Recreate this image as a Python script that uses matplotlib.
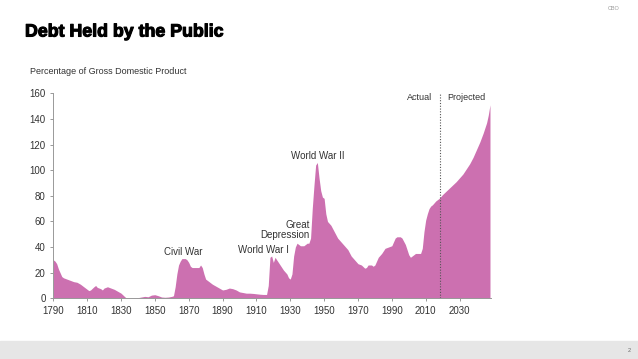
import matplotlib.pyplot as plt
import matplotlib.patheffects as pe

# Debt held by the public, percent of GDP
years = [1790, 1791, 1792, 1793, 1794, 1795, 1796, 1798, 1800, 1802, 1804, 1806,
         1808, 1810, 1811, 1812, 1814, 1815, 1816, 1818, 1819, 1820, 1822, 1824,
         1826, 1828, 1830, 1832, 1833, 1835, 1838, 1840, 1842, 1844, 1846, 1848,
         1850, 1852, 1854, 1856, 1858, 1860, 1861, 1862, 1863, 1864, 1865, 1866,
         1868, 1869, 1870, 1871, 1872, 1874, 1876, 1877, 1878, 1879, 1880, 1882,
         1884, 1886, 1888, 1890, 1892, 1894, 1896, 1898, 1900, 1902, 1904, 1906,
         1908, 1910, 1912, 1914, 1916, 1917, 1918, 1919, 1920, 1921, 1922, 1924,
         1926, 1928, 1929, 1930, 1931, 1932, 1933, 1934, 1935, 1936, 1938, 1940,
         1941, 1942, 1943, 1944, 1945, 1946, 1947, 1948, 1949, 1950, 1951, 1952,
         1954, 1956, 1958, 1960, 1962, 1964, 1966, 1968, 1970, 1972, 1974, 1975,
         1976, 1978, 1979, 1980, 1982, 1984, 1986, 1988, 1990, 1992, 1993, 1995,
         1996, 1998, 2000, 2001, 2002, 2004, 2006, 2007, 2008, 2009, 2010, 2011,
         2012, 2013, 2014, 2016, 2018, 2020, 2022, 2024, 2026, 2028, 2030, 2032,
         2034, 2036, 2038, 2040, 2042, 2044, 2046, 2047, 2048]
debt = [30, 29, 27, 23, 20, 17, 16, 15, 14, 13, 12.5, 11,
        9, 7, 6, 6.5, 9, 10, 8.5, 7.5, 6.5, 8, 9, 8,
        7, 5.5, 4, 1.5, 0.3, 0, 0.2, 0.5, 1, 1.5, 1.2, 2.5,
        2.8, 2, 1, 0.8, 1, 1.5, 2, 9, 19, 26, 29, 31,
        31, 30, 28, 25, 24, 24, 24, 26, 24, 19, 15, 13,
        11, 9.5, 8, 6.5, 7, 8, 7.5, 6.5, 5, 4.5, 4, 4,
        3.8, 3.5, 3.2, 3, 3, 10, 32, 33, 28, 32, 30, 26,
        22, 19, 16, 15, 19, 33, 40, 43, 42, 41, 41, 43,
        43, 47, 70, 88, 104, 106, 94, 84, 79, 78, 66, 60,
        57, 52, 47, 44, 41, 38, 33, 30, 27, 26, 23.5, 24,
        26, 26, 25, 26, 32, 35, 39, 40, 41, 47, 48, 48,
        47, 42, 34, 32, 33, 35, 35, 35, 39, 52, 61, 66,
        70, 72, 73, 76, 78, 81, 83.5, 86, 88.5, 91, 94, 97,
        101, 105, 110, 116, 122, 129, 137, 143, 151]

x_ticks = list(range(1790, 2031, 20))
y_ticks = list(range(0, 161, 20))
split_year = 2018.7

annotations = [
    ("Civil War", 1866.5, 36, "center"),
    ("World War I", 1914, 38, "center"),
    ("Great\nDepression", 1941.5, 53, "right"),
    ("World War II", 1946.5, 111, "center"),
]

pink = "#CC70B0"
grey_txt = "#333333"

fig = plt.figure(figsize=(6.38, 3.59), dpi=100)
ax = fig.add_axes([53.3 / 638, 1 - 298.3 / 359, (491 - 53.3) / 638, 205 / 359])

ax.fill_between(years, debt, 0, color=pink, linewidth=0)
ax.axvline(split_year, ymin=0, ymax=1.0, color="#555555", linestyle=(0, (1, 1.5)), linewidth=0.8)

ax.set_xlim(1790, 2048.6)
ax.set_ylim(0, 160)
ax.set_xticks(x_ticks)
ax.set_yticks(y_ticks)
ax.tick_params(axis="both", labelsize=7, colors="#888888", labelcolor=grey_txt,
               length=2.5, width=0.6, pad=3)
for lbl in ax.get_xticklabels() + ax.get_yticklabels():
    lbl.set_family("Liberation Sans")

for side in ["top", "right"]:
    ax.spines[side].set_visible(False)
for side in ["left", "bottom"]:
    ax.spines[side].set_color("#999999")
    ax.spines[side].set_linewidth(0.7)

for text, xx, yy, ha in annotations:
    ax.text(xx, yy, text, ha=ha, va="center", fontsize=7, color=grey_txt,
            family="Liberation Sans", linespacing=1.0)

ax.text(split_year - 5, 157, "Actual", ha="right", va="center", fontsize=6.5,
        color=grey_txt, family="Liberation Sans")
ax.text(split_year + 4, 157, "Projected", ha="left", va="center", fontsize=6.5,
        color=grey_txt, family="Liberation Sans")

fig.text(25 / 638, 1 - 32 / 359, "Debt Held by the Public", fontsize=12.8,
         fontweight="bold", family="Liberation Sans", va="center", ha="left",
         path_effects=[pe.withStroke(linewidth=0.8, foreground="black")])
fig.text(30 / 638, 1 - 72 / 359, "Percentage of Gross Domestic Product", fontsize=6.5,
         family="Liberation Sans", color=grey_txt, va="center", ha="left")
fig.text(614 / 638, 1 - 9 / 359, "CBO", fontsize=4, color="#999999",
         family="Liberation Sans", va="center", ha="center")

# grey footer band
fig.patches.append(plt.Rectangle((0, 0), 1, 18 / 359, transform=fig.transFigure,
                                 color="#E6E6E6", zorder=0))
fig.text(631 / 638, 9 / 359, "2", fontsize=4, color="#666666",
         family="Liberation Sans", va="center", ha="right")

fig.savefig("out.png", dpi=100)
